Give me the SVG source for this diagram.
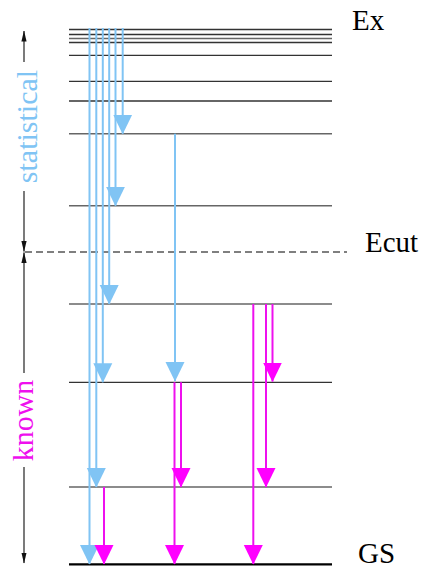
<svg xmlns="http://www.w3.org/2000/svg" width="427" height="569" viewBox="0 0 427 569">
<style>
.lvl{stroke:#333;stroke-width:1.3;fill:none}
.lvl2{stroke:#666;stroke-width:1.5;fill:none}
.gs{stroke:#000;stroke-width:2.2;fill:none}
.dash{stroke:#555;stroke-width:1.3;stroke-dasharray:7,4;fill:none}
.b{stroke:#80c4f4;stroke-width:2;fill:none}
.m{stroke:#ee10ee;stroke-width:2;fill:none}
.ax{stroke:#222;stroke-width:1.2;fill:none}
</style>
<defs>
<marker id="ab" viewBox="0 -10 20 20" refX="19" refY="0" markerWidth="20" markerHeight="20" markerUnits="userSpaceOnUse" orient="auto"><path d="M0,-9.5 L19.5,0 L0,9.5 Z" fill="#80c4f4"/></marker>
<marker id="am" viewBox="0 -10 20 20" refX="19" refY="0" markerWidth="20" markerHeight="20" markerUnits="userSpaceOnUse" orient="auto"><path d="M0,-9.5 L19.5,0 L0,9.5 Z" fill="#ff00ff"/></marker>
<marker id="ak" viewBox="0 -3 11 6" refX="10.5" refY="0" markerWidth="11" markerHeight="6" markerUnits="userSpaceOnUse" orient="auto"><path d="M0,-2.6 L11,0 L0,2.6 Z" fill="#111"/></marker>
</defs>
<g id="levels">
<line class="lvl" x1="69" y1="29.5" x2="332" y2="29.5"/>
<line class="lvl" x1="69" y1="34.5" x2="332" y2="34.5"/>
<line class="lvl2" x1="69" y1="38.5" x2="332" y2="38.5"/>
<line class="lvl" x1="69" y1="42.5" x2="332" y2="42.5"/>
<line class="lvl" x1="69" y1="55.3" x2="332" y2="55.3"/>
<line class="lvl" x1="69" y1="81.3" x2="332" y2="81.3"/>
<line class="lvl" x1="69" y1="101" x2="332" y2="101"/>
<line class="lvl2" x1="69" y1="133.7" x2="332" y2="133.7"/>
<line class="lvl2" x1="69" y1="205.7" x2="332" y2="205.7"/>
<line class="lvl2" x1="69" y1="304" x2="332" y2="304"/>
<line class="lvl" x1="69" y1="382.3" x2="332" y2="382.3"/>
<line class="lvl2" x1="69" y1="487" x2="332" y2="487"/>
<line class="gs" x1="69" y1="564.3" x2="332" y2="564.3"/>
</g>
<g id="ecut">
<line class="dash" x1="25" y1="252" x2="347" y2="252"/>
</g>
<g id="connectors">
<line class="b" x1="122.7" y1="28" x2="122.7" y2="133.7" marker-end="url(#ab)"/>
<line class="b" x1="115.5" y1="28" x2="115.5" y2="205.7" marker-end="url(#ab)"/>
<line class="b" x1="109.2" y1="28" x2="109.2" y2="304" marker-end="url(#ab)"/>
<line class="b" x1="102.8" y1="28" x2="102.8" y2="382.3" marker-end="url(#ab)"/>
<line class="b" x1="96.3" y1="28" x2="96.3" y2="487" marker-end="url(#ab)"/>
<line class="b" x1="89.5" y1="28" x2="89.5" y2="564" marker-end="url(#ab)"/>
<line class="b" x1="175" y1="133.7" x2="175" y2="381" marker-end="url(#ab)"/>
<line class="m" x1="104" y1="487" x2="104" y2="564" marker-end="url(#am)"/>
<line class="m" x1="174.5" y1="382.3" x2="174.5" y2="564" marker-end="url(#am)"/>
<line class="m" x1="181" y1="382.3" x2="181" y2="487" marker-end="url(#am)"/>
<line class="m" x1="253.3" y1="304" x2="253.3" y2="564" marker-end="url(#am)"/>
<line class="m" x1="266" y1="304" x2="266" y2="487" marker-end="url(#am)"/>
<line class="m" x1="272.5" y1="304" x2="272.5" y2="381.5" marker-end="url(#am)"/>
</g>
<g id="axis">
<line class="ax" x1="24" y1="62" x2="24" y2="31" marker-end="url(#ak)"/>
<line class="ax" x1="24" y1="191" x2="24" y2="251.5" marker-end="url(#ak)"/>
<line class="ax" x1="24" y1="373" x2="24" y2="252.5" marker-end="url(#ak)"/>
<line class="ax" x1="24" y1="467" x2="24" y2="563" marker-end="url(#ak)"/>
<text font-family="Liberation Serif, DejaVu Serif, serif" font-size="30" fill="#80c4f4" text-anchor="middle" transform="translate(36.5,126.5) rotate(-90)">statistical</text>
<text font-family="Liberation Serif, DejaVu Serif, serif" font-size="30" fill="#ee10ee" text-anchor="middle" transform="translate(33,420.5) rotate(-90)">known</text>
</g>
<g id="labels" font-family="Liberation Serif, DejaVu Serif, serif" font-size="29" fill="#000">
<text x="352" y="30">Ex</text>
<text x="365" y="251.7">Ecut</text>
<text x="358" y="563">GS</text>
</g>
</svg>
